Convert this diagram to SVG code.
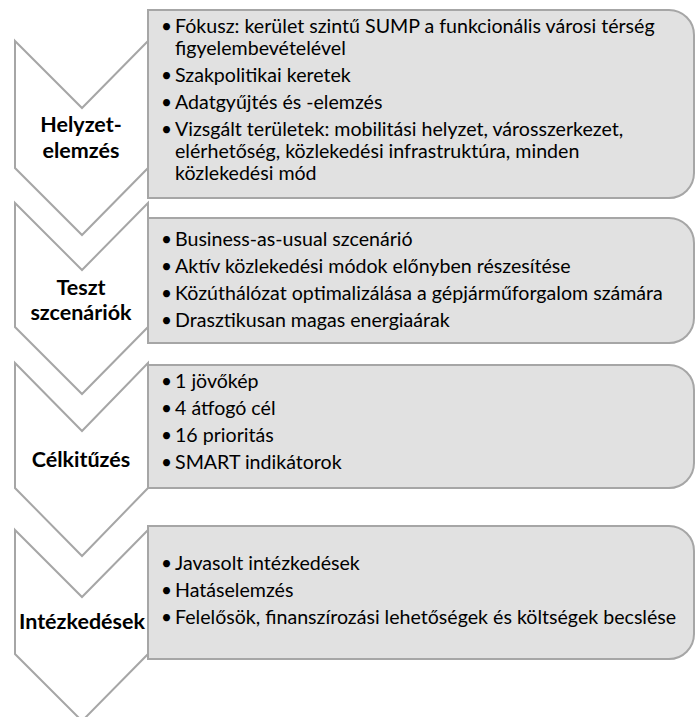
<svg xmlns="http://www.w3.org/2000/svg" width="695" height="717" viewBox="0 0 695 717">
<style>
.chev{fill:#ffffff;stroke:#a6a6a6;stroke-width:2;stroke-linejoin:miter}
.box{fill:#e1e1e1;stroke:#a6a6a6;stroke-width:2}
.lbl{font-family:Lato,"Liberation Sans",sans-serif;font-weight:bold;font-size:21.5px;fill:#000;text-anchor:middle}
.t{font-family:Lato,"Liberation Sans",sans-serif;font-size:19.6px;fill:#000}
.b{font-family:Lato,"Liberation Sans",sans-serif;font-size:19px;fill:#000}
</style>
<rect width="695" height="717" fill="#ffffff"/>
<g id="chevron-helyzetelemzes">
<path class="chev" d="M15,41 L82,108 L148,41 L148,168 L82,235 L15,168 Z"/>
<text class="lbl" x="81" y="132">Helyzet-</text>
<text class="lbl" x="81" y="158">elemzés</text>
</g>
<g id="box-helyzetelemzes">
<path class="box" d="M148,10 H669 A25,25 0 0 1 694,35 V173 A25,25 0 0 1 669,198 H148 Z"/>
<text class="b" x="161" y="33">•</text><text class="t" x="175" y="33">Fókusz: kerület szintű SUMP a funkcionális városi térség</text>
<text class="t" x="175" y="55">figyelembevételével</text>
<text class="b" x="161" y="82">•</text><text class="t" x="175" y="82">Szakpolitikai keretek</text>
<text class="b" x="161" y="109">•</text><text class="t" x="175" y="109">Adatgyűjtés és -elemzés</text>
<text class="b" x="161" y="136">•</text><text class="t" x="175" y="136">Vizsgált területek: mobilitási helyzet, városszerkezet,</text>
<text class="t" x="175" y="158">elérhetőség, közlekedési infrastruktúra, minden</text>
<text class="t" x="175" y="180">közlekedési mód</text>
</g>
<g id="chevron-teszt">
<path class="chev" d="M15,203 L82,270 L148,203 L148,327 L82,394 L15,327 Z"/>
<text class="lbl" x="81" y="295">Teszt</text>
<text class="lbl" x="81" y="320">szcenáriók</text>
</g>
<g id="box-teszt">
<path class="box" d="M148,218 H669 A25,25 0 0 1 694,243 V318 A25,25 0 0 1 669,343 H148 Z"/>
<text class="b" x="161" y="246">•</text><text class="t" x="175" y="246">Business-as-usual szcenárió</text>
<text class="b" x="161" y="273">•</text><text class="t" x="175" y="273">Aktív közlekedési módok előnyben részesítése</text>
<text class="b" x="161" y="300">•</text><text class="t" x="175" y="300">Közúthálózat optimalizálása a gépjárműforgalom számára</text>
<text class="b" x="161" y="327">•</text><text class="t" x="175" y="327">Drasztikusan magas energiaárak</text>
</g>
<g id="chevron-celkituzes">
<path class="chev" d="M15,363 L82,431 L148,363 L148,488 L82,556 L15,488 Z"/>
<text class="lbl" x="81" y="467">Célkitűzés</text>
</g>
<g id="box-celkituzes">
<path class="box" d="M148,365 H669 A25,25 0 0 1 694,390 V463 A25,25 0 0 1 669,488 H148 Z"/>
<text class="b" x="161" y="388">•</text><text class="t" x="175" y="388">1 jövőkép</text>
<text class="b" x="161" y="415">•</text><text class="t" x="175" y="415">4 átfogó cél</text>
<text class="b" x="161" y="442">•</text><text class="t" x="175" y="442">16 prioritás</text>
<text class="b" x="161" y="469">•</text><text class="t" x="175" y="469">SMART indikátorok</text>
</g>
<g id="chevron-intezkedesek">
<path class="chev" d="M15,530 L82,597 L148,530 L148,654 L82,721 L15,654 Z"/>
<text class="lbl" x="82" y="629">Intézkedések</text>
</g>
<g id="box-intezkedesek">
<path class="box" d="M148,526 H669 A25,25 0 0 1 694,551 V634 A25,25 0 0 1 669,659 H148 Z"/>
<text class="b" x="161" y="570">•</text><text class="t" x="175" y="570">Javasolt intézkedések</text>
<text class="b" x="161" y="597">•</text><text class="t" x="175" y="597">Hatáselemzés</text>
<text class="b" x="161" y="624">•</text><text class="t" x="175" y="624">Felelősök, finanszírozási lehetőségek és költségek becslése</text>
</g>
<g id="connectors"/>
</svg>
